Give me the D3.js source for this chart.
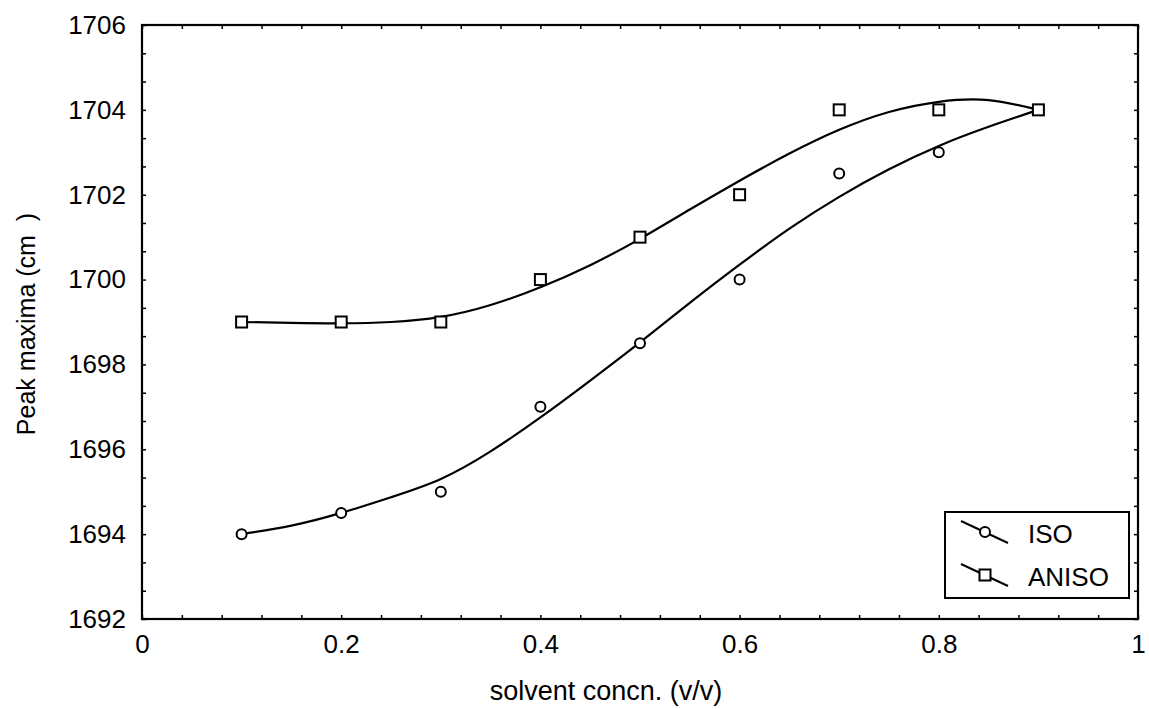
<!DOCTYPE html>
<html>
<head>
<meta charset="utf-8">
<script src="https://cdn.jsdelivr.net/npm/d3@7"></script>
<style>
  body { margin: 0; background: #fff; overflow: hidden; }
  svg { display: block; }
  text { font-family: "Liberation Sans", Arial, sans-serif; fill: #000; }
</style>
</head>
<body>
<div id="chart"></div>
<script>
// measured points
const concn = [0.1, 0.2, 0.3, 0.4, 0.5, 0.6, 0.7, 0.8, 0.9];
const isoPeak = [1694, 1694.5, 1695, 1697, 1698.5, 1700, 1702.5, 1703, 1704];
const anisoPeak = [1699, 1699, 1699, 1700, 1701, 1702, 1704, 1704, 1704];

// fitted curves
const fitX = [0.1, 0.15, 0.2, 0.25, 0.3, 0.35, 0.4, 0.45, 0.5, 0.55, 0.6, 0.65, 0.7, 0.75, 0.8, 0.85, 0.9];
const isoFit = [1694.0, 1694.2, 1694.5, 1694.87, 1695.3, 1695.95, 1696.75, 1697.62, 1698.52, 1699.45, 1700.35, 1701.2, 1701.95, 1702.6, 1703.15, 1703.6, 1704.0];
const anisoFit = [1699.0, 1698.98, 1698.97, 1699.0, 1699.12, 1699.4, 1699.82, 1700.34, 1700.96, 1701.65, 1702.33, 1702.97, 1703.53, 1703.95, 1704.19, 1704.23, 1704.0];

// ticks
const xTicks = [0, 0.2, 0.4, 0.6, 0.8, 1];
const yTicks = [1692, 1694, 1696, 1698, 1700, 1702, 1704, 1706];
const seriesNames = ["ISO", "ANISO"];

const width = 1149;
const height = 709;
const margin = { top: 25, right: 11, bottom: 90, left: 142 };
const innerWidth = width - margin.left - margin.right;
const innerHeight = height - margin.top - margin.bottom;

const svg = d3.select("#chart")
  .append("svg")
    .attr("width", width)
    .attr("height", height)
    .attr("viewBox", `0 0 ${width} ${height}`);

const innerChart = svg
  .append("g")
    .attr("transform", `translate(${margin.left}, ${margin.top})`);

/* scales */
const xScale = d3.scaleLinear()
  .domain([0, 1])
  .range([0, innerWidth]);

const yScale = d3.scaleLinear()
  .domain([1692, 1706])
  .range([innerHeight, 0]);

/* minor ticks on all four sides (inward) */
const xMinor = d3.range(0, 26).map(i => i * 0.04);
const yMinor = d3.range(0, 22).map(i => 1692 + i * 2 / 3);

const tickStyle = g => {
  g.select(".domain").remove();
  g.selectAll("line").attr("stroke", "#000").attr("stroke-width", 1.5);
  g.selectAll("text").remove();
};

innerChart.append("g")
  .attr("transform", `translate(0, ${innerHeight})`)
  .call(d3.axisBottom(xScale).tickValues(xMinor).tickSize(-4))
  .call(tickStyle);
innerChart.append("g")
  .call(d3.axisTop(xScale).tickValues(xMinor).tickSize(-4))
  .call(tickStyle);
innerChart.append("g")
  .call(d3.axisLeft(yScale).tickValues(yMinor).tickSize(-4))
  .call(tickStyle);
innerChart.append("g")
  .attr("transform", `translate(${innerWidth}, 0)`)
  .call(d3.axisRight(yScale).tickValues(yMinor).tickSize(-4))
  .call(tickStyle);

/* tick labels */
const bottomAxis = innerChart.append("g")
  .attr("transform", `translate(0, ${innerHeight})`)
  .call(d3.axisBottom(xScale).tickValues(xTicks).tickSize(0).tickPadding(16).tickFormat(d3.format("")));
bottomAxis.select(".domain").remove();
bottomAxis
  .attr("font-size", 26)
  .attr("font-family", "'Liberation Sans', Arial, sans-serif");

const leftAxis = innerChart.append("g")
  .call(d3.axisLeft(yScale).tickValues(yTicks).tickSize(0).tickPadding(16).tickFormat(d3.format("d")));
leftAxis.select(".domain").remove();
leftAxis
  .attr("font-size", 26)
  .attr("font-family", "'Liberation Sans', Arial, sans-serif");

/* frame */
innerChart.append("rect")
  .attr("width", innerWidth)
  .attr("height", innerHeight)
  .attr("fill", "none")
  .attr("stroke", "#000")
  .attr("stroke-width", 2.2);

/* fitted curves */
const lineGen = d3.line()
  .x(d => xScale(d[0]))
  .y(d => yScale(d[1]))
  .curve(d3.curveNatural);

[isoFit, anisoFit].forEach(fit => {
  innerChart.append("path")
    .datum(fitX.map((x, i) => [x, fit[i]]))
    .attr("d", lineGen)
    .attr("fill", "none")
    .attr("stroke", "#000")
    .attr("stroke-width", 2.2);
});

/* markers */
innerChart.selectAll(".iso")
  .data(concn.map((x, i) => [x, isoPeak[i]]))
  .join("circle")
    .attr("class", "iso")
    .attr("cx", d => xScale(d[0]))
    .attr("cy", d => yScale(d[1]))
    .attr("r", 5)
    .attr("fill", "#fff")
    .attr("stroke", "#000")
    .attr("stroke-width", 2);

const sq = 11;
innerChart.selectAll(".aniso")
  .data(concn.map((x, i) => [x, anisoPeak[i]]))
  .join("rect")
    .attr("class", "aniso")
    .attr("x", d => xScale(d[0]) - sq / 2)
    .attr("y", d => yScale(d[1]) - sq / 2)
    .attr("width", sq)
    .attr("height", sq)
    .attr("fill", "#fff")
    .attr("stroke", "#000")
    .attr("stroke-width", 2);

/* axis labels */
svg.append("text")
  .text("solvent concn. (v/v)")
  .attr("text-anchor", "middle")
  .attr("x", 606)
  .attr("y", 700)
  .style("font-size", "27px");

svg.append("text")
  .text("Peak maxima (cm\u00a0\u00a0)")
  .attr("text-anchor", "middle")
  .attr("transform", "translate(35, 324) rotate(-90)")
  .style("font-size", "25px");

/* legend */
const legend = svg.append("g");
legend.append("rect")
  .attr("x", 945)
  .attr("y", 512)
  .attr("width", 184)
  .attr("height", 86)
  .attr("fill", "#fff")
  .attr("stroke", "#000")
  .attr("stroke-width", 2);

seriesNames.forEach((name, i) => {
  const y0 = 521 + i * 43;
  const row = legend.append("g");
  row.append("line")
    .attr("x1", 961).attr("y1", y0)
    .attr("x2", 1008).attr("y2", y0 + 22)
    .attr("stroke", "#000")
    .attr("stroke-width", 2);
  if (i === 0) {
    row.append("circle")
      .attr("cx", 985).attr("cy", y0 + 11).attr("r", 5)
      .attr("fill", "#fff").attr("stroke", "#000").attr("stroke-width", 2);
  } else {
    row.append("rect")
      .attr("x", 985 - sq / 2).attr("y", y0 + 11 - sq / 2)
      .attr("width", sq).attr("height", sq)
      .attr("fill", "#fff").attr("stroke", "#000").attr("stroke-width", 2);
  }
  row.append("text")
    .text(name)
    .attr("x", 1028)
    .attr("y", y0 + 22)
    .style("font-size", "26px");
});
</script>
</body>
</html>
